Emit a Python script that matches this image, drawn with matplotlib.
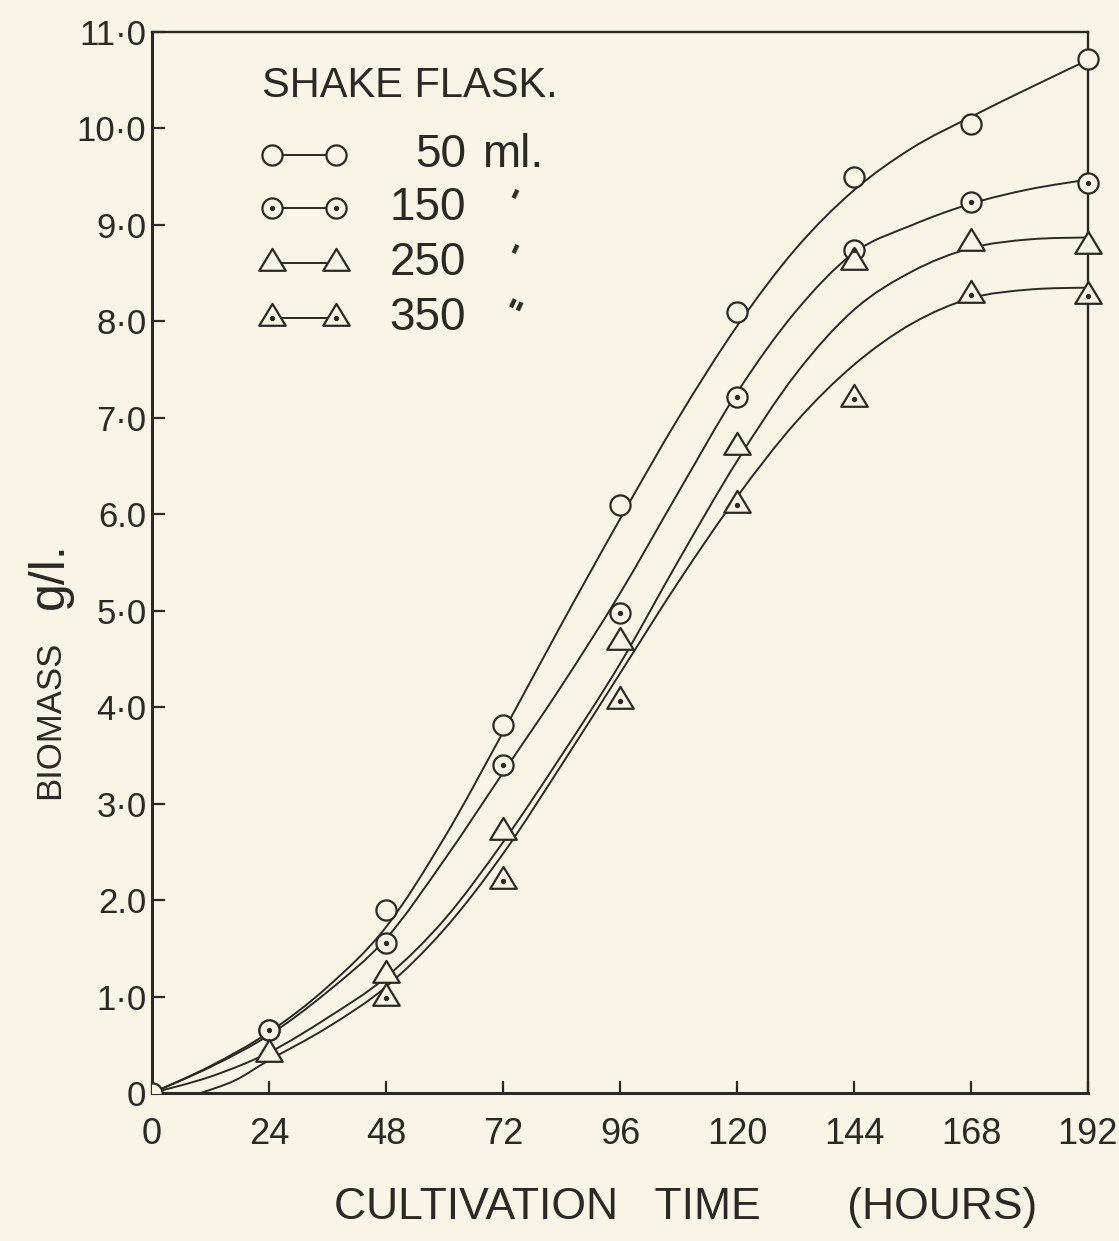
import numpy as np
import matplotlib
matplotlib.use("Agg")
import matplotlib.pyplot as plt
from matplotlib.path import Path
from matplotlib.patches import PathPatch

# ---------------- data ----------------
hours_ticks = [0, 24, 48, 72, 96, 120, 144, 168, 192]
y_ticks = [0, 1, 2, 3, 4, 5, 6, 7, 8, 9, 10, 11]
y_tick_labels = ["0", "1·0", "2.0", "3·0", "4·0", "5·0", "6.0", "7·0", "8·0", "9·0", "10·0", "11·0"]

# measured points
t50 = [0, 24, 48, 72, 96, 120, 144, 168, 192]
b50 = [0.0, 0.65, 1.90, 3.82, 6.10, 8.10, 9.50, 10.05, 10.72]
t150 = [24, 48, 72, 96, 120, 144, 168, 192]
b150 = [0.65, 1.55, 3.40, 4.98, 7.22, 8.74, 9.24, 9.43]
t250 = [24, 48, 72, 96, 120, 144, 168, 192]
b250 = [0.40, 1.22, 2.71, 4.68, 6.70, 8.62, 8.81, 8.78]
t350 = [48, 72, 96, 120, 144, 168, 192]
b350 = [0.98, 2.20, 4.06, 6.10, 7.20, 8.27, 8.26]

# hand-drawn fitted curves (knots)
ct50 = [0, 12, 24, 36, 48, 60, 72, 84, 96, 108, 120, 132, 144, 156, 168, 180, 192]
cb50 = [0.0, 0.28, 0.63, 1.10, 1.72, 2.65, 3.74, 4.86, 5.95, 7.00, 7.95, 8.75, 9.36, 9.80, 10.12, 10.42, 10.71]
ct150 = [0, 12, 24, 36, 48, 60, 72, 84, 96, 108, 120, 132, 144, 156, 168, 180, 192]
cb150 = [0.0, 0.27, 0.60, 1.05, 1.60, 2.42, 3.32, 4.22, 5.18, 6.23, 7.26, 8.10, 8.71, 9.00, 9.22, 9.37, 9.47]
ct250 = [0, 12, 24, 36, 48, 60, 72, 84, 96, 108, 120, 132, 144, 156, 168, 180, 192]
cb250 = [0.0, 0.17, 0.42, 0.78, 1.20, 1.80, 2.60, 3.50, 4.45, 5.52, 6.55, 7.45, 8.12, 8.52, 8.76, 8.85, 8.87]
ct350 = [10, 17, 24, 36, 48, 60, 72, 84, 96, 108, 120, 132, 144, 156, 168, 180, 192]
cb350 = [0.0, 0.13, 0.34, 0.68, 1.10, 1.70, 2.48, 3.40, 4.35, 5.30, 6.18, 6.95, 7.55, 7.98, 8.24, 8.33, 8.35]

legend_title = "SHAKE FLASK."
legend_nums = ["50", "150", "250", "350"]
legend_units = ["ml.", "'", "'", "\""]
x_label = "CULTIVATION   TIME       (HOURS)"
y_label_word = "BIOMASS"
y_label_unit = "g/l."

# ---------------- style ----------------
INK = "#2a2926"
BG = "#f8f4e6"
FONT = ["Liberation Sans", "DejaVu Sans"]

fig = plt.figure(figsize=(11.19, 12.41), dpi=100, facecolor=BG)
ax = fig.add_axes([152 / 1119, 1 - 1093 / 1241, 936 / 1119, 1061 / 1241])
ax.set_facecolor(BG)
ax.set_xlim(0, 192)
ax.set_ylim(0, 11)

for s in ax.spines.values():
    s.set_color(INK)
    s.set_linewidth(1.7)
ax.spines["left"].set_linewidth(2.2)
ax.spines["bottom"].set_linewidth(2.2)

ax.set_xticks(hours_ticks)
ax.set_xticklabels([str(h) for h in hours_ticks], family=FONT, fontsize=26, color=INK)
ax.set_yticks(y_ticks)
ax.set_yticklabels(y_tick_labels, family=FONT, fontsize=25, color=INK)
ax.tick_params(axis="both", direction="in", length=9, width=1.6, color=INK)
ax.tick_params(axis="x", pad=17)
ax.tick_params(axis="y", pad=4)

ax.set_xlabel(x_label, family=FONT, fontsize=32, color=INK)
ax.xaxis.set_label_coords((686 - 152) / 936, (1093 - 1207) / 1061)
ax.xaxis.label.set_va("center")
ax.set_ylabel(y_label_word, family=FONT, fontsize=25, color=INK)
ax.yaxis.set_label_coords((50 - 152) / 936, (1093 - 720) / 1061)
ax.yaxis.label.set_va("center")
ax.text((50 - 152) / 936, (1093 - 576) / 1061, y_label_unit, transform=ax.transAxes,
        rotation=90, family=FONT, fontsize=36, color=INK, ha="center", va="center")


def smooth_curve(t, b):
    """Catmull-Rom through the knots, drawn as cubic Bezier path in data coords."""
    p = np.column_stack([t, b]).astype(float)
    pts = np.vstack([p[0], p, p[-1]])
    verts = [tuple(p[0])]
    codes = [Path.MOVETO]
    for i in range(1, len(pts) - 2):
        p0, p1, p2, p3 = pts[i - 1], pts[i], pts[i + 1], pts[i + 2]
        c1 = p1 + (p2 - p0) / 6.0
        c2 = p2 - (p3 - p1) / 6.0
        verts += [tuple(c1), tuple(c2), tuple(p2)]
        codes += [Path.CURVE4] * 3
    patch = PathPatch(Path(verts, codes), fill=False, edgecolor=INK, lw=1.4,
                      transform=ax.transData, zorder=2, capstyle="round")
    ax.add_patch(patch)


for t, b in [(ct50, cb50), (ct150, cb150), (ct250, cb250), (ct350, cb350)]:
    smooth_curve(t, b)

TRI = Path([(-1.0, -0.55), (1.0, -0.55), (0.0, 1.1), (-1.0, -0.55)],
           [Path.MOVETO, Path.LINETO, Path.LINETO, Path.CLOSEPOLY])

mk = dict(ls="none", mfc=BG, mec=INK, mew=1.6, zorder=3)
dot = dict(ls="none", marker="o", ms=2.8, mfc=INK, mec=INK, clip_on=False, zorder=4)

# first 50 ml point sits on the origin and is cut by the frame
ax.plot(t50[:1], b50[:1], marker="o", ms=14.5, clip_on=True, **mk)
ax.plot(t50[1:], b50[1:], marker="o", ms=14.5, clip_on=False, **mk)
ax.plot(t150, b150, marker="o", ms=14.5, clip_on=False, **mk)
ax.plot(t150, b150, **dot)
ax.plot(t250, b250, marker=TRI, ms=21, clip_on=False, **mk)
ax.plot(t350, b350, marker=TRI, ms=21, clip_on=False, **mk)
ax.plot(t350, b350, **dot)

# ---------------- legend (drawn in axes fraction) ----------------
def fx(px):
    return (px - 152) / 936

def fy(py):
    return (1093 - py) / 1061

tr = ax.transAxes
ax.text(fx(262), fy(86), legend_title, transform=tr, family=FONT, fontsize=30,
        color=INK, ha="left", va="center")
rows_y = [155, 208, 263, 318]
styles = [("o", False, 14.5), ("o", True, 14.5), (TRI, False, 21), (TRI, True, 21)]
for ry, (m, dotted, ms), num, unit in zip(rows_y, styles, legend_nums, legend_units):
    xs = [fx(272), fx(336)]
    ys = [fy(ry), fy(ry)]
    ax.plot(xs, ys, transform=tr, color=INK, lw=1.4, zorder=2)
    ax.plot(xs, ys, transform=tr, marker=m, ms=ms, clip_on=False, **mk)
    if dotted:
        ax.plot(xs, ys, transform=tr, **dot)
    ax.text(fx(466), fy(ry), num, transform=tr, family=FONT, fontsize=33,
            color=INK, ha="right", va="center")
    if unit == "ml.":
        ax.text(fx(482), fy(ry), unit, transform=tr, family=FONT, fontsize=33,
                color=INK, ha="left", va="center")
    else:
        ax.text(fx(510), fy(ry - 2), unit, transform=tr, family=FONT, fontsize=26,
                color=INK, ha="center", va="center", fontweight="bold", rotation=-25)

fig.savefig("out.png", dpi=100, facecolor=BG)
